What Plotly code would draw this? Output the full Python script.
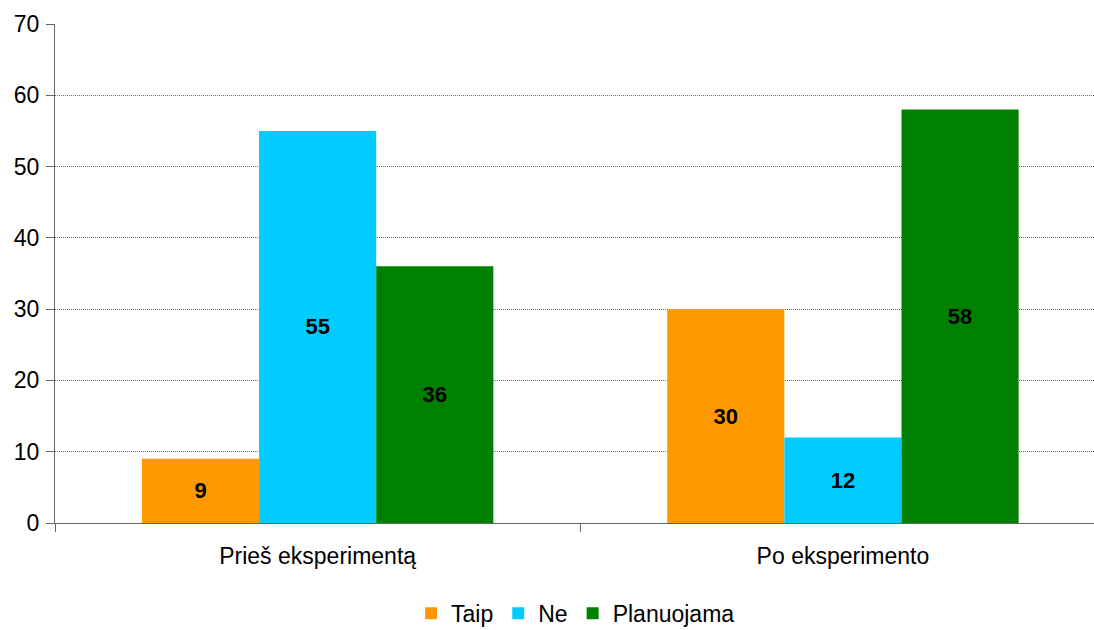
import plotly.graph_objects as go

categories = ["Prieš eksperimentą", "Po eksperimento"]
series_names = ["Taip", "Ne", "Planuojama"]
taip = [9, 30]
ne = [55, 12]
planuojama = [36, 58]
colors = ["#FF9900", "#00CCFF", "#008000"]

fig = go.Figure()
for name, vals, col in zip(series_names, [taip, ne, planuojama], colors):
    fig.add_trace(go.Bar(
        x=categories, y=vals, name=name, marker=dict(color=col, line=dict(width=0)),
        text=[str(v) for v in vals], textposition="inside", insidetextanchor="middle",
        textfont=dict(family="Liberation Sans, Arial", size=22, color="black", weight="bold"),
        textangle=0, cliponaxis=False,
    ))

fig.update_layout(
    barmode="group", bargap=0.331, bargroupgap=0,
    width=1094, height=630,
    margin=dict(l=55, r=0, t=24, b=107, autoexpand=False),
    paper_bgcolor="white", plot_bgcolor="white",
    font=dict(family="Liberation Sans, Arial", size=23, color="black"),
    uniformtext=dict(mode=False),
    legend=dict(orientation="h", x=0.501, xanchor="center", y=-0.181, yanchor="middle",
                font=dict(size=23), itemwidth=30, tracegroupgap=0),
    showlegend=True,
)
fig.update_xaxes(
    range=[-0.5, 1.478], tickson="boundaries", ticks="outside", ticklen=8,
    tickcolor="#666666", showline=True, linecolor="#666666", linewidth=1,
    showgrid=False, ticklabelstandoff=12, tickfont=dict(size=23),
)
fig.update_yaxes(
    range=[0, 70], dtick=10, ticks="outside", ticklen=8, tickcolor="#666666",
    showline=True, linecolor="#666666", linewidth=1,
    showgrid=True, gridcolor="#666666", griddash="1px,1px", gridwidth=1,
    zeroline=False, tickfont=dict(size=23), ticklabelstandoff=2,
)
fig.write_html("out.html")
